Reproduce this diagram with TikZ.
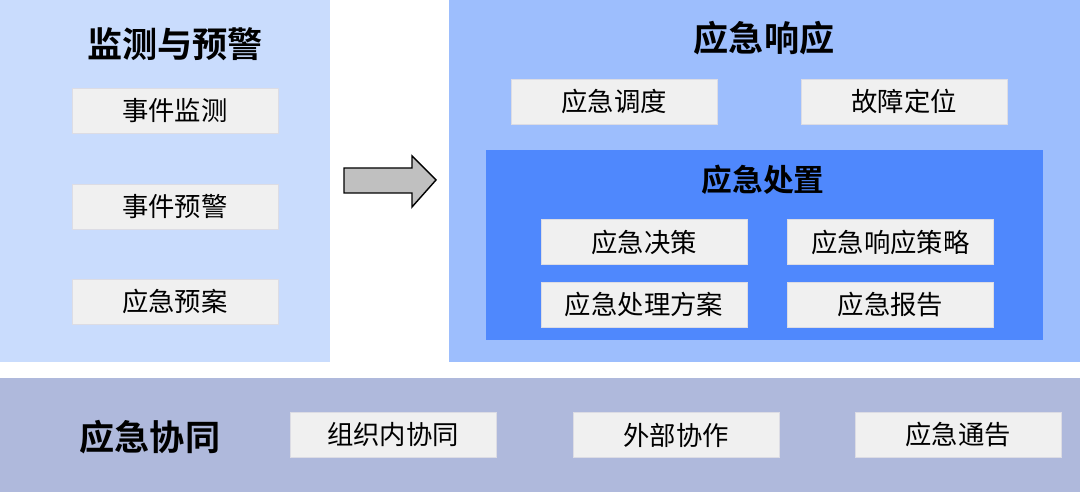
\documentclass[tikz,border=0pt]{standalone}
\usepackage{fontspec}
\newfontfamily\cjk[BoldFont={Noto Sans CJK SC Bold}]{Noto Sans CJK SC}
\definecolor{paleblue}{HTML}{C9DCFD}
\definecolor{midblue}{HTML}{9DBEFD}
\definecolor{deepblue}{HTML}{4F88FD}
\definecolor{greyblue}{HTML}{AFB9DC}
\definecolor{itemgrey}{HTML}{F0F0F0}
\definecolor{itemedge}{HTML}{DCDCE4}
\definecolor{arrowgrey}{HTML}{C0C0C0}

\begin{document}
\begin{tikzpicture}[x=0.02cm,y=-0.02cm,
    item/.style={fill=itemgrey,draw=itemedge,line width=0.4pt,
      minimum width=4.12cm,minimum height=0.9cm,inner sep=0pt,
      font=\cjk\fontsize{15}{15}\selectfont},
    heading/.style={font=\cjk\bfseries\fontsize{20}{20}\selectfont}]
  \useasboundingbox (0,0) rectangle (1080,492);
  % Three panels and the inner block.
  \fill[paleblue] (0,0) rectangle (330,362);
  \fill[midblue] (449,0) rectangle (1080,362);
  \fill[deepblue] (486,150) rectangle (1043,340);
  \fill[greyblue] (0,378) rectangle (1080,492);
  % Panel titles.
  \node[heading] (watch) at (175,44) {监测与预警};
  \node[heading] (respond) at (764,38) {应急响应};
  \node[heading,font=\cjk\bfseries\fontsize{17.5}{17.5}\selectfont]
    (handle) at (763,180) {应急处置};
  \node[heading] (joint) at (150,437) {应急协同};
  % Left column.
  \node[item] (monitor) at (175,110.5) {事件监测};
  \node[item] (alert) at (175,206.5) {事件预警};
  \node[item] (plan) at (175,301.5) {应急预案};
  % Response row.
  \node[item] (dispatch) at (614,101.5) {应急调度};
  \node[item] (locate) at (904,101.5) {故障定位};
  % Handling grid.
  \node[item] (decide) at (644,242) {应急决策};
  \node[item] (policy) at (890.5,242) {应急响应策略};
  \node[item] (scheme) at (644,304.5) {应急处理方案};
  \node[item] (report) at (890.5,304.5) {应急报告};
  % Bottom row.
  \node[item] (inner) at (393,435) {组织内协同};
  \node[item] (outer) at (676,435) {外部协作};
  \node[item] (notice) at (958,435) {应急通告};
  % Block arrow.
  \draw[fill=arrowgrey,line width=0.8pt,line join=miter]
    (344,168) -- (412,168) -- (412,156) -- (436,180) -- (412,207)
    -- (412,193) -- (344,193) -- cycle;
\end{tikzpicture}
\end{document}
